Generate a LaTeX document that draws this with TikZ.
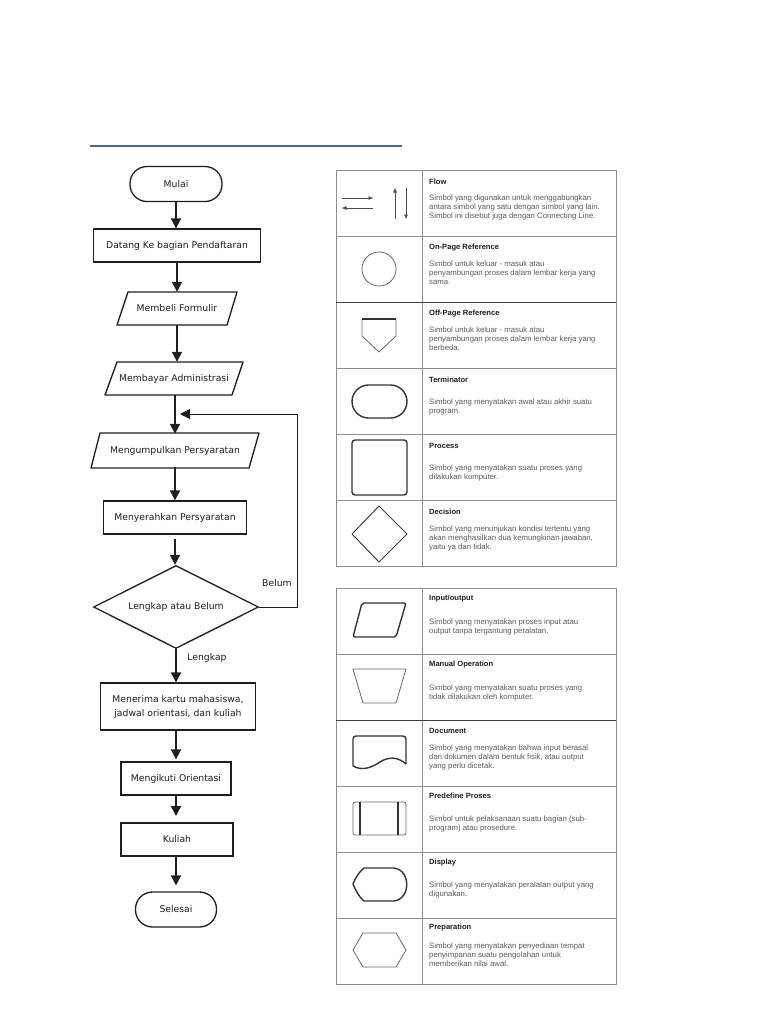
\documentclass[tikz,border=0pt]{standalone}
\usepackage{fontspec}
\setmainfont{DejaVu Sans}
\newfontfamily\arialf{Liberation Sans}
\usetikzlibrary{arrows.meta,shapes.geometric,calc}
\definecolor{rulecol}{RGB}{78,104,142}
\definecolor{inkc}{RGB}{30,30,30}
\definecolor{descc}{RGB}{90,90,90}
\begin{document}
\begin{tikzpicture}[x=1bp,y=-1bp,
  fc/.style={font=\fontsize{9.3}{14}\selectfont, text=inkc, inner sep=0pt},
  procbox/.style={fc, draw=inkc, line width=1.3bp, minimum height=33bp},
  termbox/.style={procbox, rounded corners=17bp, minimum height=35bp},
  iotext/.style={fc, minimum height=33bp},
  iopath/.style={draw=inkc, line width=1.3bp, line join=round},
  dia/.style={fc, diamond, draw=inkc, line width=1.3bp, minimum width=165bp, minimum height=83bp, aspect=2},
  flowarrow/.style={-{Triangle[length=10bp,width=10bp]}, line width=1.8bp, inkc},
  looparrow/.style={-{Triangle[length=10bp,width=10bp]}, line width=1bp, inkc},
  lbl/.style={fc},
  tline/.style={draw=black!45, line width=0.9bp},
  ttitle/.style={font=\arialf\bfseries\fontsize{7.6}{9}\selectfont, text=inkc, inner sep=0pt, anchor=west},
  tdesc/.style={font=\arialf\fontsize{7.8}{9}\selectfont, text=descc, inner sep=0pt, anchor=north west, align=left},
  darksym/.style={draw=black!80, line width=1.4bp, line join=round},
  thinsym/.style={draw=black!60, line width=0.8bp, line join=round},
  thinarrow/.style={-{Triangle[length=4.5bp,width=3.5bp]}, line width=0.7bp, black!70}
]
\fill[white] (0,0) rectangle (768,1024);
\useasboundingbox (0,0) rectangle (768,1024);

% top rule
\draw[rulecol, line width=2bp] (90,146) -- (402,146);

% ---------------- flowchart ----------------
\node[termbox, minimum width=92bp] (mulai) at (176,184) {Mulai};
\node[procbox, minimum width=167bp] (datang) at (177,245.5) {Datang Ke bagian Pendaftaran};
\node[iotext, minimum width=105bp] (membeli) at (177,308.5) {Membeli Formulir};
\draw[iopath] (128,292) -- (237,292) -- (227,325) -- (117,325) -- cycle;
\node[iotext, minimum width=120bp] (membayar) at (174,378.5) {Membayar Administrasi};
\draw[iopath] (117,362) -- (243,362) -- (232,395) -- (105,395) -- cycle;
\node[iotext, minimum width=150bp] (kumpul) at (175,450.5) {Mengumpulkan Persyaratan};
\draw[iopath] (100,433) -- (259,433) -- (249,468) -- (91,468) -- cycle;
\node[procbox, minimum width=143bp] (serah) at (175,517.5) {Menyerahkan Persyaratan};
\node[dia] (cek) at (176,607) {Lengkap atau Belum};
\node[procbox, minimum width=155bp, minimum height=47bp, align=center] (terima) at (178,706.5) {Menerima kartu mahasiswa,\\jadwal orientasi, dan kuliah};
\node[procbox, minimum width=110bp] (ikut) at (176,778.5) {Mengikuti Orientasi};
\node[procbox, minimum width=112bp, line width=2bp] (kuliah) at (177,839.5) {Kuliah};
\node[termbox, minimum width=81bp] (selesai) at (176,909.5) {Selesai};

\draw[flowarrow] (mulai.south) -- (mulai.south |- datang.north);
\draw[flowarrow] (datang.south) -- (datang.south |- membeli.north);
\draw[flowarrow] (membeli.south) -- (membeli.south |- membayar.north);
\draw[flowarrow] ([xshift=1bp]membayar.south) -- ([xshift=1bp]membayar.south |- kumpul.north);
\draw[flowarrow] (kumpul.south) -- (kumpul.south |- serah.north);
\draw[flowarrow] ([yshift=-4bp]serah.south) -- (serah.south |- cek.north);
\draw[flowarrow] (cek.south) -- (cek.south |- terima.north);
\draw[flowarrow] (terima.south -| ikut.north) -- ([yshift=2bp]ikut.north);
\draw[flowarrow] (ikut.south) -- ([yshift=6bp]ikut.south |- kuliah.north);
\draw[flowarrow] (kuliah.south -| selesai.north) -- ([yshift=6bp]selesai.north);

\coordinate (loopin) at (180,414);
\draw[looparrow] (cek.east) -- (297,607) |- (loopin);
\node[lbl] (belum) at (277,583) {Belum};
\node[lbl] (lengkap) at (207,658) {Lengkap};

% ---------------- table 1 ----------------
\draw[tline] (336,170) rectangle (616,566);
\draw[tline] (422,170) -- (422,566);
\foreach \yy in {236,368,434,500} \draw[tline] (336,\yy) -- (616,\yy);
\draw[draw=black!75, line width=0.9bp] (336,302) -- (616,302);

% Flow
\draw[thinarrow] (342,198) -- (373,198);
\draw[thinarrow] (373,208) -- (342,208);
\draw[thinarrow] (395,219) -- (395,188);
\draw[thinarrow] (406,188) -- (406,219);
\node[ttitle] (t1) at (429,182) {Flow};
\node[tdesc] (d1) at (429,194.5) {Simbol yang digunakan untuk menggabungkan\\antara simbol yang satu dengan simbol yang lain.\\Simbol ini disebut juga dengan Connecting Line.};
% On-page
\draw[thinsym] (379,269) circle (17bp);
\node[ttitle] (t2) at (429,248) {On-Page Reference};
\node[tdesc] (d2) at (429,260.5) {Simbol untuk keluar - masuk atau\\penyambungan proses dalam lembar kerja yang\\sama.};
% Off-page
\draw[thinsym] (362,319) -- (362,336) -- (379,352) -- (396,336) -- (396,319);
\draw[darksym, line width=1.1bp] (362,319) -- (396,319);
\node[ttitle] (t3) at (429,314) {Off-Page Reference};
\node[tdesc] (d3) at (429,326.5) {Simbol untuk keluar - masuk atau\\penyambungan proses dalam lembar kerja yang\\berbeda.};
% Terminator
\draw[darksym, rounded corners=16.5bp] (352,385) rectangle (407,418);
\node[ttitle] (t4) at (429,380) {Terminator};
\node[tdesc] (d4) at (429,398.5) {Simbol yang menyatakan awal atau akhir suatu\\program.};
% Process
\draw[darksym, rounded corners=3bp] (352,440) rectangle (407,495);
\node[ttitle] (t5) at (429,446) {Process};
\node[tdesc] (d5) at (429,464.5) {Simbol yang menyatakan suatu proses yang\\dilakukan komputer.};
% Decision
\draw[thinsym, draw=black!75, line width=1bp] (379,506) -- (407,534) -- (379,562) -- (352,534) -- cycle;
\node[ttitle] (t6) at (429,512) {Decision};
\node[tdesc] (d6) at (429,525.5) {Simbol yang menunjukan kondisi tertentu yang\\akan menghasilkan dua kemungkinan jawaban,\\yaitu ya dan tidak.};

% ---------------- table 2 ----------------
\draw[tline] (336,588) rectangle (616,984);
\draw[tline] (422,588) -- (422,984);
\foreach \yy in {654,786,852,918} \draw[tline] (336,\yy) -- (616,\yy);
\draw[draw=black!75, line width=0.9bp] (336,720) -- (616,720);

% Input/output
\draw[darksym, rounded corners=2bp] (362,603) -- (406,603) -- (396,637) -- (353,637) -- cycle;
\node[ttitle] (t7) at (429,599) {Input/output};
\node[tdesc] (d7) at (429,618.5) {Simbol yang menyatakan proses input atau\\output tanpa tergantung peralatan.};
% Manual operation
\draw[thinsym] (353,669) -- (406,669) -- (396,703) -- (363,703) -- cycle;
\node[ttitle] (t8) at (429,665) {Manual Operation};
\node[tdesc] (d8) at (429,684.5) {Simbol yang menyatakan suatu proses yang\\tidak dilakukan oleh komputer.};
% Document
\draw[darksym, rounded corners=3bp] (353,766) -- (353,736) -- (406,736) -- (406,764);
\draw[darksym] (406,764) .. controls (397,756) and (388,757) .. (380,762) .. controls (371,768) and (362,771) .. (353,766);
\node[ttitle] (t9) at (429,731) {Document};
\node[tdesc] (d9) at (429,744.5) {Simbol yang menyatakan bahwa input berasal\\dari dokumen dalam bentuk fisik, atau output\\yang perlu dicetak.};
% Predefine
\draw[thinsym, rounded corners=2bp] (353,802) rectangle (406,835);
\draw[darksym, line width=1.1bp] (360,802) -- (360,835);
\draw[darksym, line width=1.1bp] (398,802) -- (398,835);
\node[ttitle] (t10) at (429,796) {Predefine Proses};
\node[tdesc] (d10) at (429,815.5) {Simbol untuk pelaksanaan suatu bagian (sub-\\program) atau prosedure.};
% Display
\draw[darksym] (353,884) .. controls (356,877) and (359,872) .. (364,868) -- (394,868) .. controls (411,870) and (411,899) .. (394,901) -- (364,901) .. controls (359,897) and (356,891) .. (353,884) -- cycle;
\node[ttitle] (t11) at (429,863) {Display};
\node[tdesc] (d11) at (429,881.5) {Simbol yang menyatakan peralatan output yang\\digunakan.};
% Preparation
\draw[thinsym] (353,950) -- (363,933) -- (396,933) -- (406,950) -- (396,967) -- (363,967) -- cycle;
\node[ttitle] (t12) at (429,928) {Preparation};
\node[tdesc] (d12) at (429,942.5) {Simbol yang menyatakan penyediaan tempat\\penyimpanan suatu pengolahan untuk\\memberikan nilai awal.};
\end{tikzpicture}
\end{document}
